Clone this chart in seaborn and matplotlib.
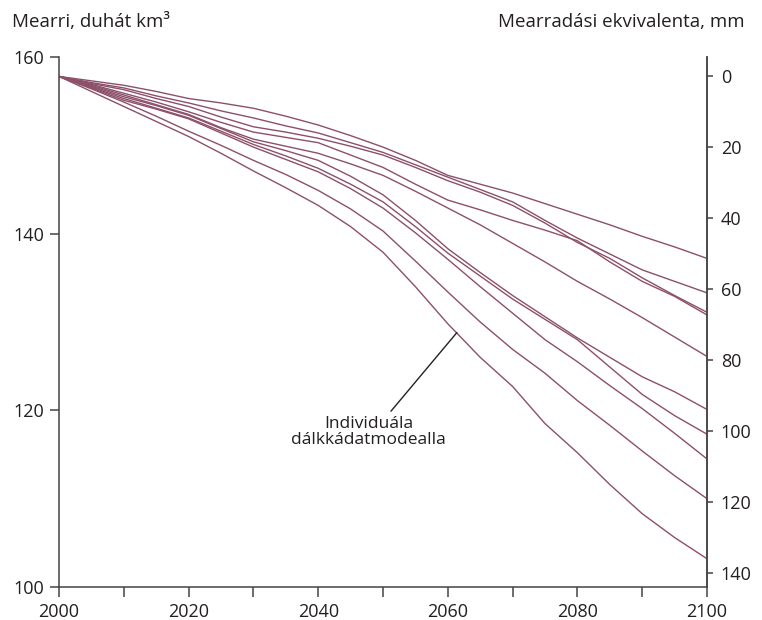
import pandas as pd
import matplotlib.pyplot as plt
import seaborn as sns

# Glacier volume per model run (thousand km3), every 5 years
years = list(range(2000, 2101, 5))

model_a = [157.8, 157.3, 156.8, 156.1, 155.3, 154.8, 154.2, 153.3, 152.3, 151.1, 149.8,
           148.3, 146.6, 145.6, 144.6, 143.4, 142.2, 141.0, 139.7, 138.5, 137.2]
model_b = [157.8, 157.1, 156.5, 155.6, 154.8, 153.9, 153.1, 152.2, 151.4, 150.3, 149.2,
           147.8, 146.4, 145.0, 143.6, 141.5, 139.5, 137.7, 135.9, 134.6, 133.3]
model_c = [157.8, 157.0, 156.3, 155.3, 154.4, 153.2, 152.1, 151.5, 150.8, 149.9, 148.9,
           147.5, 146.0, 144.7, 143.2, 141.2, 139.0, 137.2, 135.0, 133.0, 131.1]
model_d = [157.8, 156.9, 155.9, 154.9, 153.8, 152.6, 151.5, 150.9, 150.3, 148.9, 147.5,
           145.6, 143.8, 142.7, 141.5, 140.4, 139.2, 136.8, 134.6, 132.9, 130.8]
model_e = [157.8, 156.8, 155.7, 154.6, 153.5, 152.0, 150.7, 149.9, 149.1, 147.9, 146.6,
           144.8, 142.9, 141.0, 138.9, 136.8, 134.6, 132.6, 130.5, 128.3, 126.1]
model_f = [157.8, 156.7, 155.5, 154.5, 153.4, 151.9, 150.4, 149.4, 148.3, 146.5, 144.4,
           141.5, 138.3, 135.6, 133.0, 130.6, 128.2, 126.0, 123.8, 122.1, 120.1]
model_g = [157.8, 156.6, 155.3, 154.2, 153.1, 151.6, 150.1, 148.8, 147.4, 145.6, 143.6,
           140.8, 137.8, 135.2, 132.6, 130.3, 128.0, 124.9, 121.8, 119.4, 117.3]
model_h = [157.8, 156.5, 155.1, 154.1, 153.0, 151.4, 149.8, 148.4, 147.0, 145.1, 142.9,
           140.1, 137.1, 134.0, 131.0, 128.0, 125.5, 122.8, 120.2, 117.4, 114.5]
model_i = [157.8, 156.4, 154.9, 153.3, 151.6, 150.0, 148.3, 146.7, 144.9, 142.8, 140.3,
           136.9, 133.4, 130.0, 126.9, 124.2, 121.1, 118.3, 115.4, 112.6, 110.0]
model_j = [157.8, 156.1, 154.4, 152.7, 151.0, 149.1, 147.1, 145.2, 143.2, 140.8, 137.9,
           134.0, 129.8, 126.0, 122.7, 118.5, 115.2, 111.6, 108.3, 105.6, 103.2]

models = {'a': model_a, 'b': model_b, 'c': model_c, 'd': model_d, 'e': model_e,
          'f': model_f, 'g': model_g, 'h': model_h, 'i': model_i, 'j': model_j}

left_ticks = [100, 120, 140, 160]
right_ticks = [0, 20, 40, 60, 80, 100, 120, 140]
x_labels = [2000, 2020, 2040, 2060, 2080, 2100]

# sea level equivalent: 0 mm at start volume, km3 per mm
zero_km3 = 157.85
km3_per_mm = 0.402

line_color = '#8c5069'
ink = '#231f20'
axis_grey = '#444444'

df = pd.concat([pd.DataFrame({'year': years, 'volume': v, 'model': k})
                for k, v in models.items()])

sns.set_theme(style='ticks')
plt.rcParams['font.family'] = ['Open Sans', 'DejaVu Sans']

fig = plt.figure(figsize=(7.62, 6.2), dpi=100)
ax = fig.add_axes([59 / 762, 1 - 587 / 620, 648 / 762, 530 / 620])

sns.lineplot(data=df, x='year', y='volume', hue='model',
             palette=[line_color] * len(models), legend=False,
             linewidth=1.0, ax=ax)

ax.set_xlim(2000, 2100)
ax.set_ylim(100, 160)
ax.set_xticks(range(2000, 2101, 10))
ax.set_xticklabels([str(y) if y in x_labels else '' for y in range(2000, 2101, 10)])
ax.set_yticks(left_ticks)
ax.set_xlabel('')
ax.set_ylabel('')

ax.spines['top'].set_visible(False)
for s in ['left', 'bottom', 'right']:
    ax.spines[s].set_color(axis_grey)
    ax.spines[s].set_linewidth(1.1)

ax.tick_params(axis='x', length=7.5, width=1.1, color=axis_grey, pad=4,
               labelsize=13, labelcolor=ink)
ax.tick_params(axis='y', length=6.5, width=1.1, color=axis_grey, pad=4,
               labelsize=13, labelcolor=ink)

# right axis in mm of sea level equivalent, inverted
ax2 = ax.twinx()
lo, hi = ax.get_ylim()
ax2.set_ylim((zero_km3 - lo) / km3_per_mm, (zero_km3 - hi) / km3_per_mm)
ax2.set_yticks(right_ticks)
ax2.tick_params(axis='y', length=4, width=1.1, color=axis_grey, pad=6,
                labelsize=13, labelcolor=ink)
for s in ['top', 'left', 'bottom']:
    ax2.spines[s].set_visible(False)
ax2.spines['right'].set_color(axis_grey)
ax2.spines['right'].set_linewidth(1.1)

ax.annotate('Individuála\ndálkkádatmodealla', xy=(2061.4, 128.8),
            xytext=(2047.8, 117.6), textcoords='data',
            ha='center', va='center', fontsize=12.5, color=ink, linespacing=1.0,
            arrowprops=dict(arrowstyle='-', color='#222222', lw=1.0,
                            relpos=(0.62, 1.0), shrinkA=1, shrinkB=0))

fig.text(12 / 762, 1 - 22 / 620, 'Mearri, duhát km³', ha='left', va='center',
         fontsize=13.5, color=ink)
fig.text(745 / 762, 1 - 22 / 620, 'Mearradási ekvivalenta, mm', ha='right',
         va='center', fontsize=13.5, color=ink)

fig.savefig('out.png', dpi=100, facecolor='white')
